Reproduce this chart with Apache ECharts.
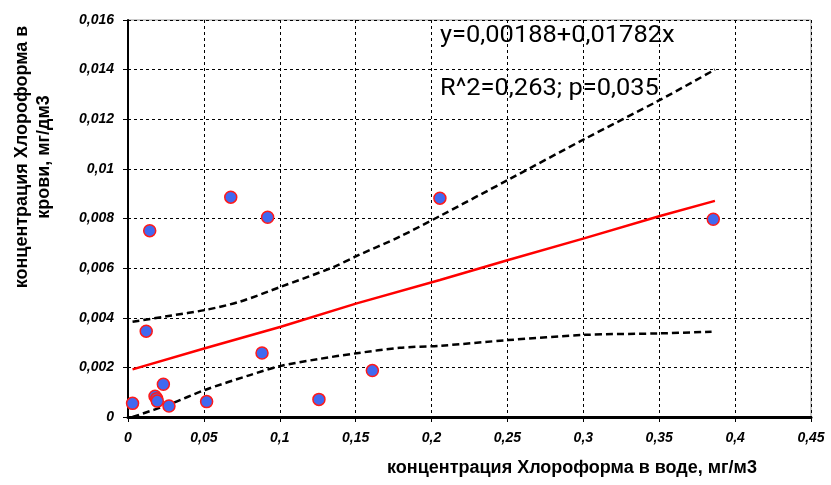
<!DOCTYPE html>
<html>
<head>
<meta charset="utf-8">
<script src="https://cdn.jsdelivr.net/npm/echarts@6/dist/echarts.min.js"></script>
<style>html,body{margin:0;padding:0;background:#fff;}#c{width:831px;height:485px;}</style>
</head>
<body>
<div id="c"></div>
<script>
// Observed points
var waterX = [0.003, 0.012, 0.0143, 0.0178, 0.0189, 0.0193, 0.0233, 0.027, 0.0518, 0.0677, 0.0883, 0.092, 0.1258, 0.161, 0.2055, 0.3856];
var bloodY = [0.00055, 0.00346, 0.00751, 0.00084, 0.00074, 0.00064, 0.00132, 0.00044, 0.00062, 0.00886, 0.00258, 0.00805, 0.00071, 0.00187, 0.00882, 0.00797];
// Regression line
var fitX = [0.003, 0.0507, 0.1007, 0.1507, 0.2055, 0.2505, 0.301, 0.3505, 0.3867];
var fitY = [0.00192, 0.00277, 0.00364, 0.00458, 0.00552, 0.00633, 0.00721, 0.0081, 0.00871];
// Upper confidence band
var upX = [0.003, 0.0277, 0.0507, 0.0738, 0.1008, 0.1352, 0.1507, 0.1791, 0.2055, 0.2505, 0.301, 0.3505, 0.3867];
var upY = [0.00384, 0.00408, 0.00431, 0.00465, 0.00525, 0.00604, 0.00649, 0.00727, 0.0081, 0.00956, 0.01121, 0.01278, 0.0140];
// Lower confidence band
var loX = [0.003, 0.0277, 0.0507, 0.0804, 0.1008, 0.125, 0.1507, 0.1791, 0.2055, 0.2505, 0.301, 0.3505, 0.3845];
var loY = [0.0, 0.00052, 0.00109, 0.00169, 0.00206, 0.00233, 0.00257, 0.00279, 0.00287, 0.0031, 0.00331, 0.00337, 0.00344];
// Texts
var xTitle = 'концентрация Хлороформа в воде, мг/м3';
var yTitle1 = 'концентрация Хлороформа в';
var yTitle2 = 'крови, мг/дм3';
var eqText = 'y=0,00188+0,01782x';
var statText = 'R^2=0,263; p=0,035';

function zip(a, b) { return a.map(function (v, i) { return [v, b[i]]; }); }
function fmt(v) { return String(+v.toPrecision(6)).replace('.', ','); }

var chart = echarts.init(document.getElementById('c'), null, { renderer: 'canvas' });
var labelStyle = { fontFamily: 'Liberation Sans, Arial, sans-serif', fontWeight: 'bold', fontStyle: 'italic', fontSize: 14, color: '#000' };
var dashGrid = { show: true, lineStyle: { color: '#000', type: [3, 3], width: 1 } };
var titleFont = 'bold 18px Liberation Sans, Arial, sans-serif';

chart.setOption({
  animation: false,
  backgroundColor: '#fff',
  grid: { left: 128, right: 20, top: 20, bottom: 68, show: true, borderColor: '#999', borderWidth: 1 },
  xAxis: {
    type: 'value', min: 0, max: 0.45, interval: 0.05,
    axisLine: { show: true, lineStyle: { color: '#000', width: 3 } },
    axisTick: { show: true, length: 5, lineStyle: { color: '#000', width: 1 } },
    axisLabel: Object.assign({ margin: 14, formatter: fmt }, labelStyle),
    splitLine: dashGrid
  },
  yAxis: {
    type: 'value', min: 0, max: 0.016, interval: 0.002,
    axisLine: { show: true, lineStyle: { color: '#000', width: 2 } },
    axisTick: { show: true, length: 5, lineStyle: { color: '#000', width: 1 } },
    axisLabel: Object.assign({ margin: 14, formatter: fmt }, labelStyle),
    splitLine: dashGrid
  },
  graphic: [
    { type: 'text', x: 572, y: 468, style: { text: xTitle, font: titleFont, fill: '#000', align: 'center', verticalAlign: 'middle' } },
    { type: 'text', x: 22, y: 157, rotation: Math.PI / 2, style: { text: yTitle1, font: titleFont, fill: '#000', align: 'center', verticalAlign: 'middle' } },
    { type: 'text', x: 44, y: 157, rotation: Math.PI / 2, style: { text: yTitle2, font: titleFont, fill: '#000', align: 'center', verticalAlign: 'middle' } },
    { type: 'text', x: 440, y: 36, scaleX: 1.06, style: { text: eqText, font: '24px Roboto, sans-serif', fill: '#000', verticalAlign: 'middle' } },
    { type: 'text', x: 440, y: 89, scaleX: 1.06, style: { text: statText, font: '24px Roboto, sans-serif', fill: '#000', verticalAlign: 'middle' } }
  ],
  series: [
    { type: 'line', data: zip(upX, upY), symbol: 'none', smooth: 0.3, lineStyle: { color: '#000', width: 2.5, type: [7, 4] }, z: 3 },
    { type: 'line', data: zip(loX, loY), symbol: 'none', smooth: 0.3, lineStyle: { color: '#000', width: 2.5, type: [7, 4] }, z: 3 },
    { type: 'line', data: zip(fitX, fitY), symbol: 'none', lineStyle: { color: '#ff0000', width: 2.5 }, z: 4 },
    { type: 'scatter', data: zip(waterX, bloodY), symbol: 'circle', symbolSize: 12,
      itemStyle: { color: '#4169f0', borderColor: '#ff1a1a', borderWidth: 1.5, opacity: 1 }, z: 5 }
  ]
});
</script>
</body>
</html>
